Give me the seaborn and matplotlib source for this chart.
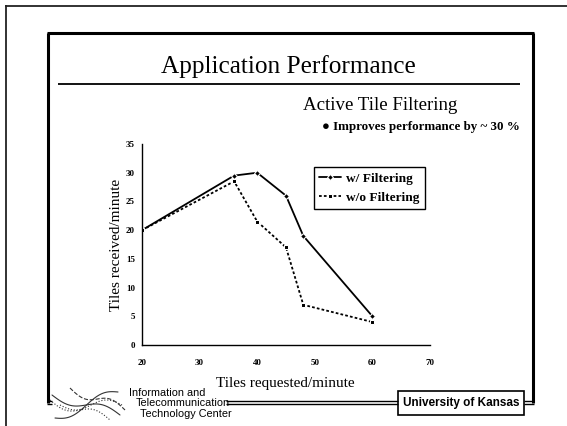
import numpy as np
import pandas as pd
import matplotlib
matplotlib.use("Agg")
import matplotlib.pyplot as plt
from matplotlib.lines import Line2D
from matplotlib.patches import Rectangle
import seaborn as sns

# ---- data ----
requested = [20, 36, 40, 45, 48, 60]
with_filtering = [20, 29.5, 30, 26, 19, 5]
without_filtering = [20, 28.5, 21.5, 17, 7, 4]
series_names = ["w/ Filtering", "w/o Filtering"]
x_ticks = [20, 30, 40, 50, 60, 70]
y_ticks = [0, 5, 10, 15, 20, 25, 30, 35]

df = pd.DataFrame({
    "requested": requested * 2,
    "received": with_filtering + without_filtering,
    "series": [series_names[0]] * len(requested) + [series_names[1]] * len(requested),
})

sns.set_theme(style="white")
plt.rcParams["font.family"] = ["Liberation Serif", "DejaVu Serif"]

W, H = 567, 426
fig = plt.figure(figsize=(W / 100, H / 100), dpi=100)
fig.patch.set_facecolor("white")


def fx(x):
    return x / W


def fy(y):
    return 1 - y / H


def hline(x0, x1, y, lw=1.0, color="black"):
    fig.add_artist(Line2D([fx(x0), fx(x1)], [fy(y), fy(y)], transform=fig.transFigure,
                          color=color, lw=lw, solid_capstyle="butt"))


def vline(x, y0, y1, lw=1.0, color="black"):
    fig.add_artist(Line2D([fx(x), fx(x)], [fy(y0), fy(y1)], transform=fig.transFigure,
                          color=color, lw=lw, solid_capstyle="butt"))


# outer frame (top and left)
hline(5, 567, 5.5, lw=1.3, color="#222222")
vline(5.5, 5, 426, lw=1.3, color="#222222")

# inner slide frame
hline(47, 534, 33, lw=2.2)
vline(48, 33, 403, lw=2.2)
vline(533, 33, 403, lw=2.2)
hline(47, 52, 401, lw=1.0)
hline(47, 52, 403.5, lw=1.0)
hline(226, 398, 401, lw=1.0)
hline(226, 398, 403.5, lw=1.0)
hline(524, 534, 401, lw=1.0)
hline(524, 534, 403.5, lw=1.0)

# title & rule
fig.text(fx(288), fy(73), "Application Performance", ha="center", va="baseline",
         fontsize=18.2, color="black")
hline(58, 520, 83.5, lw=1.3)
fig.text(fx(303), fy(110), "Active Tile Filtering", ha="left", va="baseline",
         fontsize=13.6, color="black")
fig.text(fx(520), fy(130), "\u25cf Improves performance by ~ 30 %", ha="right",
         va="baseline", fontsize=9.4, fontweight="bold", color="black",
         family=["Liberation Serif", "DejaVu Sans"])

# ---- chart ----
ax = fig.add_axes([fx(142), fy(345), fx(430) - fx(142), fy(144) - fy(345)])
ax.set_facecolor("white")
sns.lineplot(
    data=df, x="requested", y="received", hue="series", style="series",
    palette={series_names[0]: "black", series_names[1]: "black"},
    dashes={series_names[0]: "", series_names[1]: (1.5, 1.2)},
    markers={series_names[0]: "D", series_names[1]: "s"},
    markersize=3, linewidth=1.3, ax=ax, legend=True,
)
ax.set_xlim(20, 70)
ax.set_ylim(0, 35)
ax.set_xticks(x_ticks)
ax.set_yticks(y_ticks)
for s in ["top", "right"]:
    ax.spines[s].set_visible(False)
for s in ["left", "bottom"]:
    ax.spines[s].set_color("black")
    ax.spines[s].set_linewidth(1.0)
ax.tick_params(axis="both", which="major", direction="out", length=3, width=0.8,
               color="black", labelsize=6.5, labelcolor="black", pad=2)
ax.tick_params(axis="x", pad=8, length=2)
for lab in ax.get_xticklabels() + ax.get_yticklabels():
    lab.set_fontweight("bold")
ax.set_xlabel("")
ax.set_ylabel("Tiles received/minute", fontsize=11, color="black", labelpad=2)
fig.text(fx(285), fy(387), "Tiles requested/minute", ha="center", va="baseline",
         fontsize=11, color="black")

leg = ax.legend(loc="upper left", bbox_to_anchor=(0.597, 0.885), frameon=True,
                fancybox=False, framealpha=1, edgecolor="black",
                prop={"weight": "bold", "size": 9.6, "family": "Liberation Serif"},
                handlelength=1.6, handletextpad=0.4, borderpad=0.4,
                labelspacing=0.5, borderaxespad=0)
leg.get_frame().set_linewidth(1.0)
for t in leg.get_texts():
    t.set_color("black")

# ---- footer ----
fig.add_artist(Rectangle((fx(398), fy(415)), fx(524) - fx(398), fy(391) - fy(415),
                         transform=fig.transFigure, facecolor="white",
                         edgecolor="black", lw=1.2))
fig.text(fx(461), fy(403), "University of Kansas", ha="center", va="center",
         fontsize=8.5, fontweight="bold", color="black",
         family=["Liberation Sans", "DejaVu Sans"])

logo_font = ["Liberation Sans Narrow", "Liberation Sans", "DejaVu Sans"]
fig.text(fx(129), fy(396), "Information and", ha="left", va="baseline",
         fontsize=7.8, color="black", family=logo_font)
fig.text(fx(136), fy(406), "Telecommunication", ha="left", va="baseline",
         fontsize=7.8, color="black", family=logo_font)
fig.text(fx(140), fy(417), "Technology Center", ha="left", va="baseline",
         fontsize=7.8, color="black", family=logo_font)

# decorative swirl logo
t = np.linspace(0, 1, 60)
for (a, b, c, d, ls) in [(52, 120, 395, 415, "-"), (55, 118, 418, 392, "-"),
                         (60, 122, 405, 405, ":"), (50, 110, 400, 420, ":"),
                         (70, 125, 388, 410, "--")]:
    xs = a + (b - a) * t
    ys = c + (d - c) * t + 5 * np.sin(t * np.pi * 2)
    fig.add_artist(Line2D(fx(xs), fy(ys), transform=fig.transFigure,
                          color="#333333", lw=0.8, ls=ls))

fig.savefig("out.png", dpi=100, facecolor="white")
